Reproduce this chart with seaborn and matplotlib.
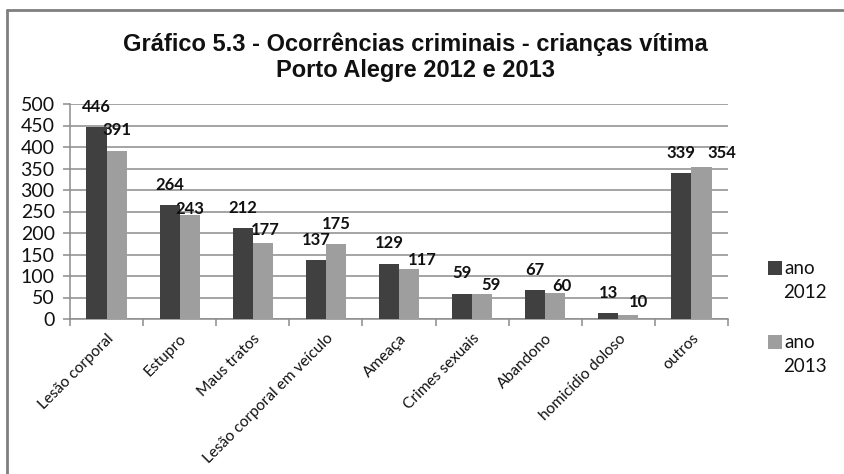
import matplotlib
matplotlib.use("Agg")
import matplotlib.pyplot as plt
from matplotlib.lines import Line2D
from matplotlib.patches import Rectangle
import seaborn as sns
import pandas as pd
import numpy as np

# Occurrences by crime type, children as victims, Porto Alegre
categories = ["Lesão corporal", "Estupro", "Maus tratos", "Lesão corporal em veículo",
              "Ameaça", "Crimes sexuais", "Abandono", "homicídio doloso", "outros"]
values_2012 = [446, 264, 212, 137, 129, 59, 67, 13, 339]
values_2013 = [391, 243, 177, 175, 117, 59, 60, 10, 354]
years = ["2012", "2013"]
y_ticks = [0, 50, 100, 150, 200, 250, 300, 350, 400, 450, 500]

df = pd.DataFrame({
    "categoria": categories * 2,
    "ano": [years[0]] * len(categories) + [years[1]] * len(categories),
    "valor": values_2012 + values_2013,
})

sns.set_theme(style="white")
plt.rcParams["font.family"] = ["Lato", "DejaVu Sans"]

colors = ["#404040", "#9e9e9e"]
# offset (in points) of each value label from the top centre of its bar, one list per year
label_dy = [
    [14.5] * len(categories),
    [15, 4, 9.5, 14.5, 6, 6.5, 5, 9, 10],
]
label_dx = [
    [0] * len(categories),
    [0, 0, 1.5, 0, 9.5, 6.5, 5, 7, 14.5],
]

fig = plt.figure(figsize=(8.44, 4.74), dpi=100)
ax = fig.add_axes([70 / 844, 1 - 319 / 474, (728 - 70) / 844, (319 - 104) / 474])

sns.barplot(data=df, x="categoria", y="valor", hue="ano", order=categories,
            hue_order=years, palette=colors, width=0.55, dodge=True,
            saturation=1, edgecolor="none", ax=ax, legend=False, zorder=3)

# value labels above each bar
for container, dxs, dys in zip(ax.containers, label_dx, label_dy):
    for bar, dx, dy in zip(container, dxs, dys):
        h = bar.get_height()
        ax.annotate(f"{int(round(h))}", (bar.get_x() + bar.get_width() / 2, h),
                    xytext=(dx, dy), textcoords="offset points",
                    ha="center", va="center", fontsize=12, fontweight="bold",
                    color="#111111", zorder=5)

ax.set_ylim(0, 500)
ax.set_xlim(-0.5, len(categories) - 0.5)
ax.set_yticks(y_ticks)
ax.set_yticklabels([str(t) for t in y_ticks], fontsize=14, color="#111111")
ax.yaxis.grid(True, color="#8c8c8c", linewidth=1.1, zorder=0)
ax.set_axisbelow(True)
ax.set_xlabel("")
ax.set_ylabel("")

for side in ["top", "right"]:
    ax.spines[side].set_visible(False)
for side in ["left", "bottom"]:
    ax.spines[side].set_color("#8c8c8c")
    ax.spines[side].set_linewidth(1.1)

ax.tick_params(axis="y", which="major", left=True, length=5, width=1.1, color="#8c8c8c", pad=6)
# x tick marks sit on the category boundaries
ax.set_xticks(np.arange(-0.5, len(categories), 1.0), minor=True)
ax.tick_params(axis="x", which="minor", bottom=True, length=5, width=1.1, color="#8c8c8c")
ax.tick_params(axis="x", which="major", bottom=False, length=0, pad=9)
ax.set_xticks(range(len(categories)))
ax.set_xticklabels(categories, rotation=45, ha="right", rotation_mode="anchor",
                   fontsize=11.2, color="#111111")

# title
title_font = dict(ha="center", va="center", fontsize=17, fontweight="bold",
                  family=["Liberation Sans", "DejaVu Sans"], color="#111111")
fig.text(415 / 844, 1 - 44 / 474, "Gráfico 5.3 - Ocorrências criminais - crianças vítima",
         **title_font)
fig.text(415 / 844, 1 - 71 / 474, "Porto Alegre 2012 e 2013", **title_font)

# legend: square swatch beside "ano", year on the line below
legend_rows = [268, 342]
for color, year, row in zip(colors, years, legend_rows):
    fig.add_artist(Rectangle((768 / 844, 1 - (row + 7) / 474), 14 / 844, 14 / 474,
                             transform=fig.transFigure, facecolor=color, edgecolor="none"))
    fig.text(784 / 844, 1 - row / 474, "ano", ha="left", va="center",
             fontsize=13.5, color="#111111")
    fig.text(783 / 844, 1 - (row + 25) / 474, year, ha="left", va="center",
             fontsize=13.5, color="#111111")

# outer frame
fig.add_artist(Line2D([7 / 844, 1], [1 - 10 / 474, 1 - 10 / 474], transform=fig.transFigure,
                      color="#7f7f7f", linewidth=2))
fig.add_artist(Line2D([7 / 844, 7 / 844], [0, 1 - 10 / 474], transform=fig.transFigure,
                      color="#7f7f7f", linewidth=2))

fig.savefig("out.png", dpi=100)
